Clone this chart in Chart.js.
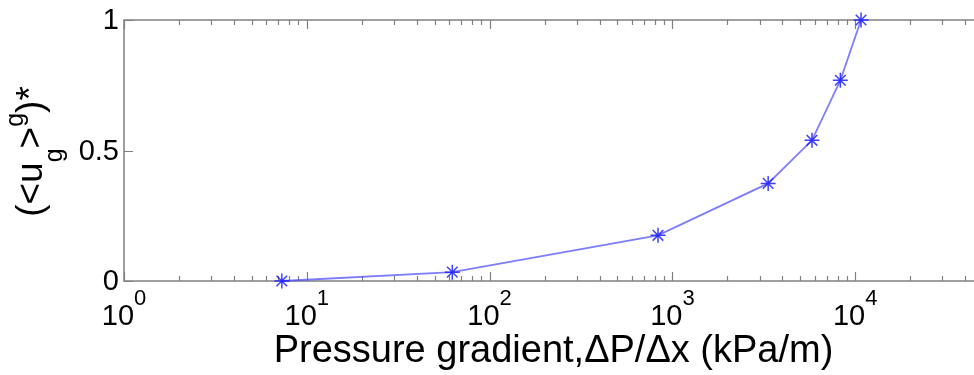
<!DOCTYPE html>
<html>
<head>
<meta charset="utf-8">
<script src="https://cdn.jsdelivr.net/npm/chart.js@4/dist/chart.umd.min.js"></script>
<style>
  html, body { margin: 0; padding: 0; background: #fff; overflow: hidden; }
  #wrap { width: 1000px; height: 375px; }
</style>
</head>
<body>
<div id="wrap"><canvas id="chart"></canvas></div>
<script>
// gas velocity ratio vs. pressure gradient
const pressureGrad = [7.3, 62.5, 834, 3340, 5800, 8290, 10760];
const velocityRatio = [0, 0.034, 0.175, 0.374, 0.539, 0.769, 1.0];

const xMajorTicks = [1, 10, 100, 1000, 10000];
const xTickExponents = ['0', '1', '2', '3', '4'];
const yTicks = [0, 0.5, 1];
const yTickLabels = ['0', '0.5', '1'];

const FONT = '"Liberation Sans", Arial, Helvetica, sans-serif';
const AXIS_COLOR = '#808080';

const axesPlugin = {
    id: 'matlabAxes',
    beforeDatasetsDraw(chart) {
        const ctx = chart.ctx;
        const area = chart.chartArea;
        const xs = chart.scales.x;
        const ys = chart.scales.y;

        ctx.save();
        ctx.strokeStyle = AXIS_COLOR;
        ctx.lineWidth = 1.5;
        ctx.strokeRect(area.left, area.top, area.right - area.left, area.bottom - area.top);

        // x ticks, major and minor, on bottom and top edges
        ctx.lineWidth = 1.2;
        ctx.beginPath();
        for (let d = 0; d <= 4; d++) {
            for (let m = 1; m <= 9; m++) {
                const v = m * Math.pow(10, d);
                if (v > xs.max) break;
                const px = Math.round(xs.getPixelForValue(v)) + 0.5;
                const len = m === 1 ? 9 : 5;
                ctx.moveTo(px, area.bottom);
                ctx.lineTo(px, area.bottom - len);
                ctx.moveTo(px, area.top);
                ctx.lineTo(px, area.top + len);
            }
        }
        // y ticks on left and right edges
        yTicks.forEach(v => {
            const py = Math.round(ys.getPixelForValue(v)) + 0.5;
            ctx.moveTo(area.left, py);
            ctx.lineTo(area.left + 9, py);
            ctx.moveTo(area.right, py);
            ctx.lineTo(area.right - 9, py);
        });
        ctx.stroke();

        // y tick labels
        ctx.fillStyle = '#000';
        ctx.font = '29px ' + FONT;
        ctx.textAlign = 'right';
        ctx.textBaseline = 'middle';
        yTicks.forEach((v, i) => {
            ctx.fillText(yTickLabels[i], area.left - 5, ys.getPixelForValue(v) + 1);
        });

        // x tick labels as 10^n
        ctx.textAlign = 'left';
        ctx.textBaseline = 'alphabetic';
        xMajorTicks.forEach((v, i) => {
            const px = xs.getPixelForValue(v);
            ctx.font = '29px ' + FONT;
            const wBase = ctx.measureText('10').width;
            ctx.font = '22px ' + FONT;
            const wExp = ctx.measureText(xTickExponents[i]).width;
            const x0 = px - (wBase + wExp) / 2;
            ctx.font = '29px ' + FONT;
            ctx.fillText('10', x0, area.bottom + 44);
            ctx.font = '22px ' + FONT;
            ctx.fillText(xTickExponents[i], x0 + wBase, area.bottom + 24);
        });

        // x axis title
        ctx.font = '38px ' + FONT;
        ctx.textAlign = 'center';
        ctx.fillText('Pressure gradient,\u0394P/\u0394x (kPa/m)', (area.left + area.right) / 2, area.bottom + 81);

        // y axis title (<u_g>^g)* drawn rotated
        const parts = [
            { t: '(<u', size: 37, dy: 0 },
            { t: 'g', size: 25, dy: 20 },
            { t: '>', size: 37, dy: 0 },
            { t: 'g', size: 25, dy: -19 },
            { t: ')', size: 37, dy: 0 },
            { t: '*', size: 37, dy: 0 }
        ];
        let total = 0;
        parts.forEach(p => {
            ctx.font = p.size + 'px ' + FONT;
            p.w = ctx.measureText(p.t).width;
            total += p.w;
        });
        ctx.translate(42, (area.top + area.bottom) / 2 + 1);
        ctx.rotate(-Math.PI / 2);
        ctx.textAlign = 'left';
        let cx = -total / 2;
        parts.forEach(p => {
            ctx.font = p.size + 'px ' + FONT;
            ctx.fillText(p.t, cx, p.dy);
            cx += p.w;
        });
        ctx.restore();
    }
};

new Chart(document.getElementById('chart').getContext('2d'), {
    type: 'line',
    data: {
        datasets: [{
            data: pressureGrad.map((x, i) => ({ x: x, y: velocityRatio[i] })),
            borderColor: 'rgba(70, 70, 255, 0.7)',
            borderWidth: 1.8,
            pointStyle: 'star',
            pointRadius: 7.5,
            pointBorderColor: 'rgba(30, 30, 255, 0.85)',
            pointBorderWidth: 1.5,
            pointBackgroundColor: '#2b2bff',
            tension: 0,
            fill: false,
            clip: false
        }]
    },
    options: {
        responsive: true,
        maintainAspectRatio: false,
        animation: false,
        layout: {
            padding: { left: 124, top: 20, right: 17, bottom: 94 }
        },
        plugins: {
            legend: { display: false },
            tooltip: { enabled: false }
        },
        scales: {
            x: { type: 'logarithmic', min: 1, max: 50000, display: false },
            y: { type: 'linear', min: 0, max: 1, display: false }
        }
    },
    plugins: [axesPlugin]
});
</script>
</body>
</html>
